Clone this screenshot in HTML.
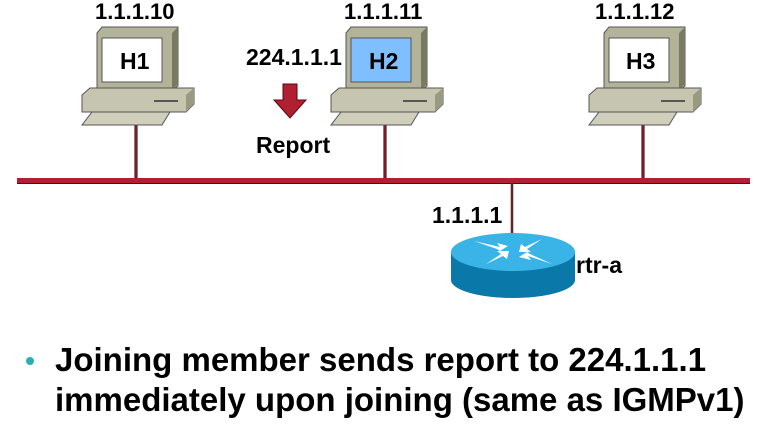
<!DOCTYPE html>
<html><head><style>
body{margin:0;width:772px;height:437px;background:#fff;position:relative;overflow:hidden;font-family:"Liberation Sans",sans-serif;font-weight:bold;}
.t{position:absolute;color:#000;white-space:nowrap}
</style></head><body>
<svg width="772" height="437" style="position:absolute;left:0;top:0">
<defs>
<g id="pc">
 <line x1="136" y1="125" x2="136" y2="180" stroke="#000" stroke-width="3"/>
 <line x1="136" y1="125" x2="136" y2="180" stroke="#b02030" stroke-width="1.5"/>
 <polygon points="97,33 102,27 178,27 178,86 172,90 97,90" fill="#b3b39a" stroke="#555" stroke-width="1"/>
 <polygon points="172,33 178,27 178,84 172,90" fill="#7a7a62"/>
 <rect x="102" y="38" width="60" height="44" fill="#fff" stroke="#555" stroke-width="1"/>
 <polygon points="82,95 90,88 194,88 194,104 186,112 82,112" fill="#c6c6b0" stroke="#555" stroke-width="1"/>
 <polygon points="186,95 194,88 194,104 186,112" fill="#9a9a82"/>
 <line x1="154" y1="101" x2="178" y2="101" stroke="#333" stroke-width="1.5"/>
 <polygon points="92,112 170,112 162,125 82,125" fill="#cfcfbb" stroke="#555" stroke-width="1"/>
</g>
</defs>
<use href="#pc"/>
<use href="#pc" x="249"/>
<rect x="351" y="38" width="60" height="44" fill="#7fbfff" stroke="#555"/>
<use href="#pc" x="507"/>
<rect x="17" y="178" width="733" height="5" fill="#b02030"/>
<line x1="17" y1="183.5" x2="750" y2="183.5" stroke="#222" stroke-width="1"/>
<line x1="512" y1="183" x2="512" y2="235" stroke="#222" stroke-width="2.5"/>
<line x1="512" y1="183" x2="512" y2="235" stroke="#b02030" stroke-width="1"/>
<!-- router -->
<path d="M451,252 L451,280 A62,18 0 0 0 575,280 L575,252 Z" fill="#0a78a8"/>
<ellipse cx="513" cy="252" rx="62" ry="19" fill="#3ab4e6"/>
<g fill="#fff">
 <polygon points="474,241 500,247 497,243 508,246 500,251 497,249"/>
 <polygon points="542,239 525,247 521,244 519,252 531,252 527,249"/>
 <polygon points="486,264 503,256 507,259 509,251 497,251 501,254"/>
 <polygon points="552,264 528,256 531,260 519,257 527,252 530,254"/>
</g>
<!-- arrow -->
<polygon points="283,84 297,84 297,100 306,100 290,118 274,100 283,100" fill="#b02030" stroke="#5a0a10" stroke-width="1"/>
<circle cx="30" cy="361" r="4" fill="#2ab0b0"/>
</svg>
<div class="t" style="left:95px;top:-1px;font-size:22px">1.1.1.10</div>
<div class="t" style="left:344px;top:-1px;font-size:22px">1.1.1.11</div>
<div class="t" style="left:595px;top:-1px;font-size:22px">1.1.1.12</div>
<div class="t" style="left:120px;top:48px;font-size:23px">H1</div>
<div class="t" style="left:369px;top:48px;font-size:23px">H2</div>
<div class="t" style="left:626px;top:48px;font-size:23px">H3</div>
<div class="t" style="left:246px;top:44px;font-size:23px">224.1.1.1</div>
<div class="t" style="left:256px;top:132px;font-size:23px">Report</div>
<div class="t" style="left:432px;top:202px;font-size:23px">1.1.1.1</div>
<div class="t" style="left:576px;top:252px;font-size:23px">rtr-a</div>
<div class="t" style="left:55px;top:340px;font-size:33px;line-height:40px">Joining member sends report to 224.1.1.1<br>immediately upon joining (same as IGMPv1)</div>
</body></html>
